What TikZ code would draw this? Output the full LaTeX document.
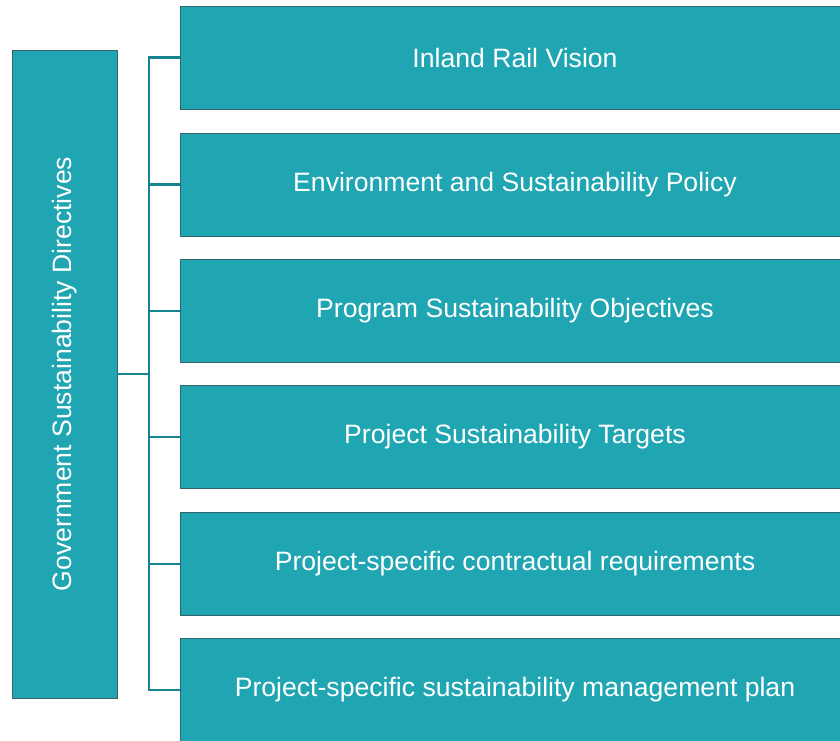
\documentclass[tikz,border=0pt]{standalone}
\usepackage{fontspec}
\setmainfont{Liberation Sans}
\definecolor{boxfill}{RGB}{32,165,178}
\definecolor{boxedge}{RGB}{50,100,105}
\definecolor{linkcol}{RGB}{22,132,142}
\begin{document}
\begin{tikzpicture}[x=1pt,y=-1pt,
  itembox/.style={draw=boxedge,line width=0.9pt,fill=boxfill,minimum width=670pt,minimum height=103pt,inner sep=0pt,text=white,font=\fontsize{26.6}{30}\selectfont},
  sidebox/.style={draw=boxedge,line width=0.9pt,fill=boxfill,minimum width=105pt,minimum height=648pt,inner sep=0pt},
  link/.style={draw=linkcol,line width=2.2pt}]
\useasboundingbox (0,0) rectangle (840,740);
\node[sidebox] (gov) at (64.5,374) {};
\node[rotate=90,text=white,font=\fontsize{26.6}{30}\selectfont] (govt) at (gov.center) {Government Sustainability Directives};
\node[itembox] (b1) at (515,57.5) {Inland Rail Vision};
\node[itembox] (b2) at (515,184.5) {Environment and Sustainability Policy};
\node[itembox] (b3) at (515,311) {Program Sustainability Objectives};
\node[itembox] (b4) at (515,437) {Project Sustainability Targets};
\node[itembox] (b5) at (515,564) {Project-specific contractual requirements};
\node[itembox] (b6) at (515,690) {Project-specific sustainability management plan};
\coordinate (j) at (149,374);
\draw[link] (gov.east) -- (j);
\draw[link] (b1.west) -| (j) |- (b6.west);
\foreach \n in {b2,b3,b4,b5} \draw[link] (j |- \n.west) -- (\n.west);
\end{tikzpicture}
\end{document}
